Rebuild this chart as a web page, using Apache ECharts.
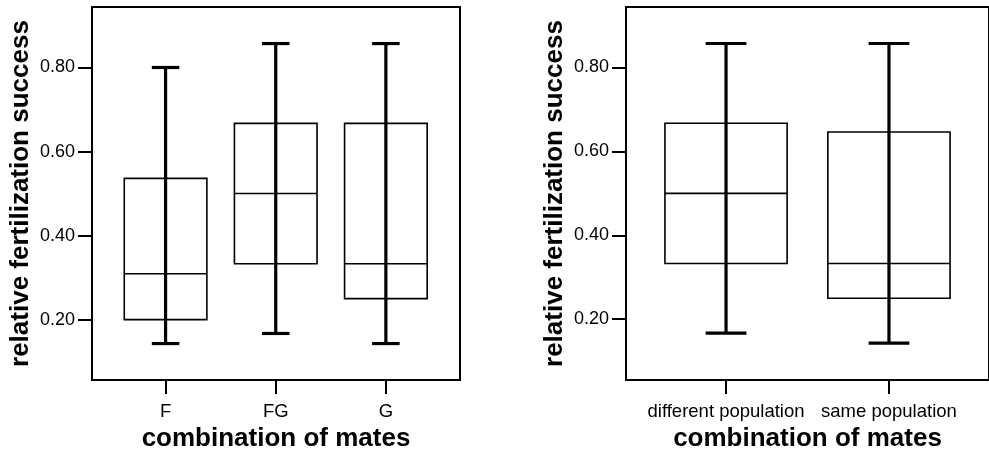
<!DOCTYPE html>
<html>
<head>
<meta charset="utf-8">
<script src="https://cdn.jsdelivr.net/npm/echarts@6/dist/echarts.min.js"></script>
<style>
  html, body { margin: 0; padding: 0; background: #fff; }
  #chart { width: 989px; height: 457px; }
</style>
</head>
<body>
<div id="chart"></div>
<script>
// left panel: F / FG / G
var catsA = ['F', 'FG', 'G'];
var minA = [0.143, 0.167, 0.143];
var q1A  = [0.200, 0.333, 0.250];
var medA = [0.309, 0.500, 0.333];
var q3A  = [0.536, 0.667, 0.667];
var maxA = [0.800, 0.857, 0.857];

// right panel: population
var catsB = ['different population', 'same population'];
var minB = [0.167, 0.143];
var q1B  = [0.333, 0.250];
var medB = [0.500, 0.333];
var q3B  = [0.667, 0.646];
var maxB = [0.857, 0.857];

var yTicks = [0.2, 0.4, 0.6, 0.8];
var FONT = '"Liberation Sans", Arial, sans-serif';

function rows(cats, mn, q1, md, q3, mx) {
	return cats.map(function (c, i) {
		return [i, mn[i], q1[i], md[i], q3[i], mx[i]];
	});
}

function renderBox(params, api) {
	var x = api.value(0);
	var pMin = api.coord([x, api.value(1)]);
	var pQ1 = api.coord([x, api.value(2)]);
	var pMed = api.coord([x, api.value(3)]);
	var pQ3 = api.coord([x, api.value(4)]);
	var pMax = api.coord([x, api.value(5)]);
	var bw = api.size([0.75, 0])[0];
	var cw = api.size([0.25, 0])[0];
	var cx = pMed[0];
	return {
		type: 'group',
		children: [
			{ type: 'rect', shape: { x: cx - bw / 2, y: pQ3[1], width: bw, height: pQ1[1] - pQ3[1] },
			  style: { fill: 'none', stroke: '#000', lineWidth: 1.6 } },
			{ type: 'line', shape: { x1: cx - bw / 2, y1: pMed[1], x2: cx + bw / 2, y2: pMed[1] },
			  style: { stroke: '#000', lineWidth: 1.6 } },
			{ type: 'line', shape: { x1: cx, y1: pMin[1], x2: cx, y2: pMax[1] },
			  style: { stroke: '#000', lineWidth: 3.2 } },
			{ type: 'line', shape: { x1: cx - cw / 2, y1: pMax[1], x2: cx + cw / 2, y2: pMax[1] },
			  style: { stroke: '#000', lineWidth: 3.2 } },
			{ type: 'line', shape: { x1: cx - cw / 2, y1: pMin[1], x2: cx + cw / 2, y2: pMin[1] },
			  style: { stroke: '#000', lineWidth: 3.2 } }
		]
	};
}

function xAx(idx, cats, mn, mx) {
	var vals = cats.map(function (c, i) { return i; });
	return {
		gridIndex: idx, type: 'value', min: mn, max: mx,
		splitLine: { show: false },
		axisLine: { show: false, onZero: false },
		axisTick: { show: true, customValues: vals, length: 14, lineStyle: { color: '#000', width: 2 } },
		axisLabel: { customValues: vals, margin: 22, color: '#000', fontSize: 18.5, fontFamily: FONT,
			formatter: function (v) { return cats[Math.round(v)]; } },
		name: 'combination of mates', nameLocation: 'middle', nameGap: 44,
		nameTextStyle: { color: '#000', fontSize: 26, fontWeight: 'bold', fontFamily: FONT }
	};
}

function yAx(idx, mn, mx) {
	return {
		gridIndex: idx, type: 'value', min: mn, max: mx,
		splitLine: { show: false },
		axisLine: { show: false, onZero: false },
		axisTick: { show: true, customValues: yTicks, length: 14, lineStyle: { color: '#000', width: 2 } },
		axisLabel: { customValues: yTicks, margin: 17, color: '#000', fontSize: 18, fontFamily: FONT,
			formatter: function (v) { return v.toFixed(2); } },
		name: 'relative fertilization success', nameLocation: 'middle', nameGap: 58,
		nameTextStyle: { color: '#000', fontSize: 26, fontWeight: 'bold', fontFamily: FONT }
	};
}

var chart = echarts.init(document.getElementById('chart'));
chart.setOption({
	animation: false,
	backgroundColor: '#fff',
	grid: [
		{ left: 92, top: 7, width: 368, height: 376, show: true, borderColor: '#000', borderWidth: 2 },
		{ left: 626, top: 7, width: 369, height: 375, show: true, borderColor: '#000', borderWidth: 2 }
	],
	xAxis: [xAx(0, catsA, -0.668, 2.673), xAx(1, catsB, -0.614, 1.614)],
	yAxis: [yAx(0, 0.056, 0.944), yAx(1, 0.055, 0.944)],
	series: [
		{ type: 'custom', xAxisIndex: 0, yAxisIndex: 0, renderItem: renderBox,
		  data: rows(catsA, minA, q1A, medA, q3A, maxA) },
		{ type: 'custom', xAxisIndex: 1, yAxisIndex: 1, renderItem: renderBox,
		  data: rows(catsB, minB, q1B, medB, q3B, maxB) }
	]
});
</script>
</body>
</html>
